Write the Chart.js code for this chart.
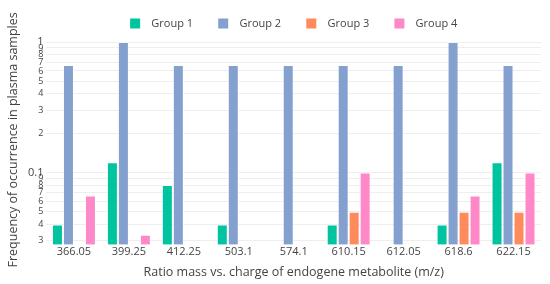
<!DOCTYPE html>
<html lang="en">
<head>
    <meta charset="UTF-8">
    <title>Metabolite frequency</title>
    <script src="https://cdn.jsdelivr.net/npm/chart.js"></script>
    <style>
        body { margin: 0; background: #fff; }
        #wrap { width: 550px; height: 284px; }
    </style>
</head>
<body>
    <div id="wrap"><canvas id="freqChart"></canvas></div>

    <script>
        // m/z categories
        const categories = ['366.05', '399.25', '412.25', '503.1', '574.1', '610.15', '612.05', '618.6', '622.15'];

        // frequency of occurrence per group (null = no bar)
        const group1 = [0.04, 0.12, 0.08, 0.04, null, 0.04, null, 0.04, 0.12];
        const group2 = [0.667, 1, 0.667, 0.667, 0.667, 0.667, 0.667, 1, 0.667];
        const group3 = [null, null, null, null, null, 0.05, null, 0.05, 0.05];
        const group4 = [0.0667, 0.0333, null, null, null, 0.1, null, 0.0667, 0.1];

        const groupNames = ['Group 1', 'Group 2', 'Group 3', 'Group 4'];
        const groupColors = ['#00c4a0', '#84a0cf', '#ff8a5c', '#ff88c8'];

        // log axis ticks
        const yTicks = [0.03, 0.04, 0.05, 0.06, 0.07, 0.08, 0.09, 0.1, 0.2, 0.3, 0.4, 0.5, 0.6, 0.7, 0.8, 0.9, 1];
        const yMin = 0.0279;
        const yMax = 1.132;

        function isDecade(v) {
            const l = Math.log10(v);
            return Math.abs(l - Math.round(l)) < 1e-9;
        }

        const series = [group1, group2, group3, group4];

        const ctx = document.getElementById('freqChart').getContext('2d');
        new Chart(ctx, {
            type: 'bar',
            data: {
                labels: categories,
                datasets: series.map((vals, i) => ({
                    label: groupNames[i],
                    data: vals,
                    backgroundColor: groupColors[i],
                    borderColor: 'rgba(255,255,255,0.45)',
                    borderWidth: 1,
                    categoryPercentage: 0.8,
                    barPercentage: 1
                }))
            },
            options: {
                responsive: true,
                maintainAspectRatio: false,
                animation: false,
                layout: { padding: { top: 10, right: 9, left: 3, bottom: 2 } },
                plugins: {
                    tooltip: { enabled: false },
                    legend: {
                        position: 'top',
                        fullSize: false,
                        maxHeight: 25,
                        labels: {
                            boxWidth: 10,
                            boxHeight: 10,
                            padding: 8,
                            color: '#444',
                            font: { family: 'Open Sans', size: 11 },
                            // extra gap between box and text, and between items
                            generateLabels: chart => Chart.defaults.plugins.legend.labels.generateLabels(chart)
                                .map((item, i, all) => ({
                                    ...item,
                                    text: '  ' + item.text + (i < all.length - 1 ? '      ' : ''),
                                    lineWidth: 0
                                }))
                        }
                    }
                },
                scales: {
                    x: {
                        grid: { display: false, drawTicks: false },
                        border: { display: false },
                        ticks: {
                            color: '#444',
                            padding: 0,
                            font: { family: 'Open Sans', size: 11 },
                            maxRotation: 0
                        },
                        title: {
                            display: true,
                            text: 'Ratio mass vs. charge of endogene metabolite (m/z)',
                            color: '#444',
                            font: { family: 'Open Sans', size: 12.5 },
                            padding: { top: 7, bottom: 2 }
                        }
                    },
                    y: {
                        type: 'logarithmic',
                        min: yMin,
                        max: yMax,
                        afterBuildTicks: axis => {
                            axis.ticks = yTicks.map(v => ({ value: v, major: isDecade(v) }));
                        },
                        grid: { color: '#eeeeee', drawTicks: false },
                        border: { display: false },
                        ticks: {
                            color: '#444',
                            padding: 3,
                            autoSkip: false,
                            font: c => ({ family: 'Open Sans', size: (c.tick && isDecade(c.tick.value)) ? 11 : 9 }),
                            callback: v => {
                                if (isDecade(v)) return String(v);
                                return String(Math.round(v / Math.pow(10, Math.floor(Math.log10(v)))));
                            }
                        },
                        title: {
                            display: true,
                            text: 'Frequency of occurrence in plasma samples',
                            color: '#444',
                            font: { family: 'Open Sans', size: 12.5 },
                            padding: { top: 3, bottom: 4 }
                        }
                    }
                }
            }
        });
    </script>
</body>
</html>
